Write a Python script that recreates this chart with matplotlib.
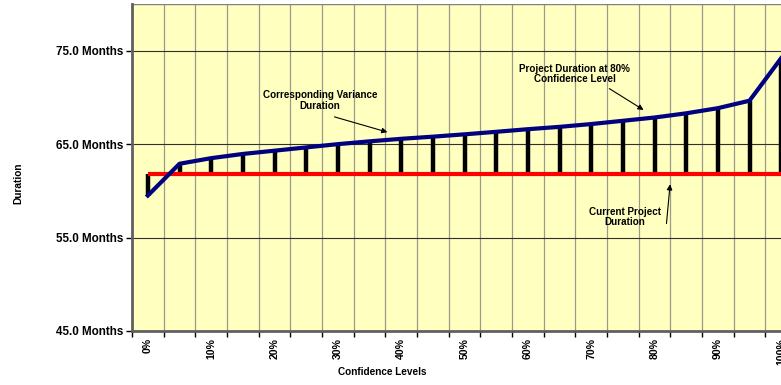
import matplotlib
matplotlib.use("Agg")
import matplotlib.pyplot as plt
import numpy as np

plt.rcParams['font.family'] = ['Liberation Sans', 'DejaVu Sans']

levels = ["0%", "5%", "10%", "15%", "20%", "25%", "30%", "35%", "40%", "45%", "50%",
          "55%", "60%", "65%", "70%", "75%", "80%", "85%", "90%", "95%", "100%"]
variance_duration = [59.5, 62.9, 63.5, 63.95, 64.3, 64.65, 65.0, 65.3, 65.57, 65.8, 66.05,
                     66.32, 66.6, 66.85, 67.15, 67.5, 67.85, 68.3, 68.85, 69.65, 74.2]
current_duration = [61.8] * len(levels)
y_ticks = [45, 55, 65, 75]
y_tick_labels = ["45.0 Months", "55.0 Months", "65.0 Months", "75.0 Months"]

W, H = 781, 385
fig = plt.figure(figsize=(W / 100, H / 100), dpi=100)
ax = fig.add_axes([132 / W, 54 / H, (797 - 132) / W, 327 / H])
ax.set_facecolor("#FFFFC0")

x = np.arange(len(levels))
ax.set_xlim(-0.5, len(levels) - 0.5)
ax.set_ylim(45, 80)

# gridlines
for b in np.arange(0.5, len(levels) - 0.5, 1.0):
    ax.axvline(b, color="#9A9A8A", lw=0.9, zorder=1)
for yt in y_ticks:
    ax.axhline(yt, color="#303030", lw=0.8, zorder=1)
ax.axhline(80, color="#808080", lw=1.0, zorder=1)

# high-low stems
ax.vlines(x, current_duration, variance_duration, color="black", lw=3.2, zorder=3)
ax.plot(x, current_duration, color="#FF0000", lw=3.0, zorder=4, solid_capstyle="butt")
ax.plot(x, variance_duration, color="#000080", lw=3.0, zorder=5, solid_joinstyle="round")

# axes styling
for s in ["top", "right"]:
    ax.spines[s].set_visible(False)
for s in ["left", "bottom"]:
    ax.spines[s].set_color("#606060")
    ax.spines[s].set_linewidth(2.0)
    ax.spines[s].set_zorder(6)

ax.set_yticks(y_ticks)
ax.set_yticklabels(y_tick_labels, fontsize=8.4, fontweight="bold")
ax.tick_params(axis="y", length=4, width=1, direction="out", pad=2)

ax.set_xticks(np.arange(-0.5, len(levels) - 0.5 + 1e-9, 1.0))
ax.set_xticklabels([])
ax.set_xticks(x[::2], minor=True)
ax.set_xticklabels(levels[::2], minor=True, rotation=90, fontsize=7.6, fontweight="bold")
ax.tick_params(axis="x", which="major", length=4, width=1, direction="out")
ax.tick_params(axis="x", which="minor", length=0, pad=5)

fig.text(382 / W, 1 - 372 / H, "Confidence Levels", ha="center", va="center",
         fontsize=7.2, fontweight="bold")
fig.text(18 / W, 1 - 183 / H, "Duration", ha="center", va="center",
         rotation=90, fontsize=7.3, fontweight="bold")

# annotations
txt_kw = dict(ha="center", va="center", fontsize=7.1, fontweight="bold", zorder=7,
              linespacing=1.1)
arrow_kw = dict(arrowstyle="-|>", color="black", lw=0.8, mutation_scale=8)

ax.text(5.44, 69.7, "Corresponding Variance\nDuration", **txt_kw)
ax.annotate("", xy=(7.65, 66.2), xytext=(5.81, 68.0), arrowprops=arrow_kw, zorder=7)

ax.text(13.48, 72.5, "Project Duration at 80%\nConfidence Level", **txt_kw)
ax.annotate("", xy=(15.73, 68.5), xytext=(14.5, 71.1), arrowprops=arrow_kw, zorder=7)

ax.text(15.06, 57.2, "Current Project\nDuration", **txt_kw)
ax.annotate("", xy=(16.5, 61.0), xytext=(16.37, 56.2), arrowprops=arrow_kw, zorder=7)

fig.savefig("out.png", dpi=100)
